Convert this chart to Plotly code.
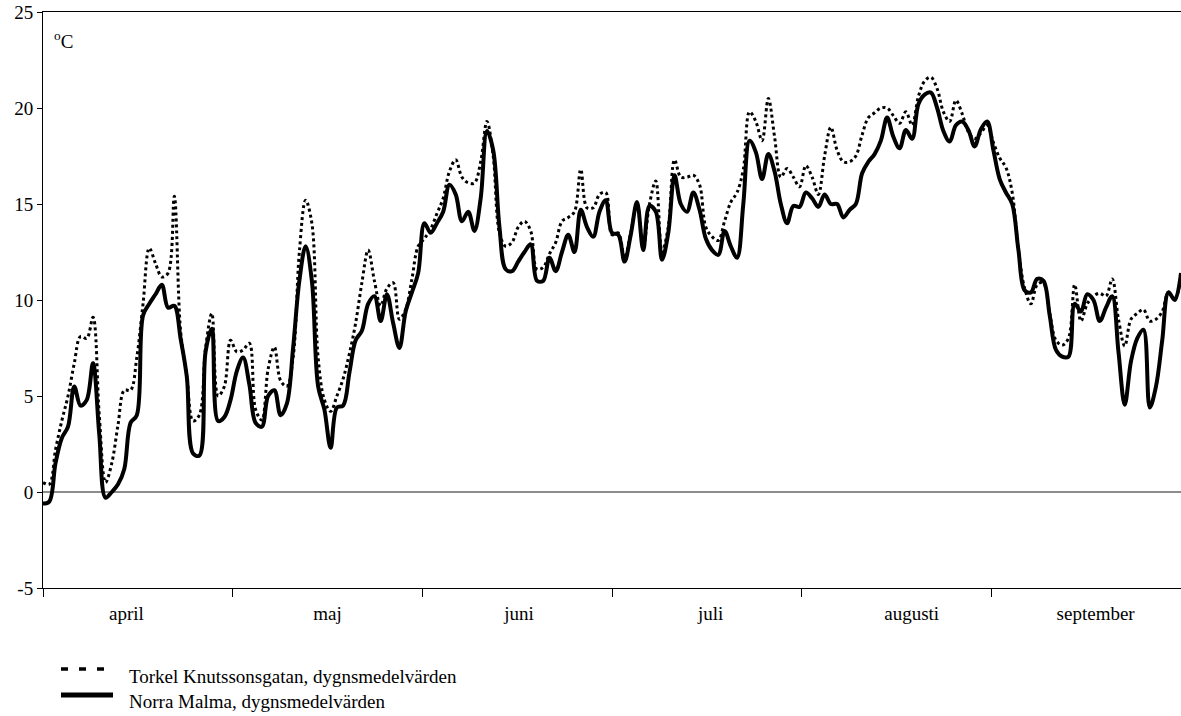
import plotly.graph_objects as go

# Daily mean temperatures, 1 April - 30 September (day index 0..182)
days = list(range(183))

torkel = [
    0.5, 0.4, 2.2, 3.7, 5.0, 6.7, 8.1, 8.0, 9.1, 4.0,
    0.5, 1.5, 3.5, 5.3, 5.3, 7.0, 9.8, 12.7, 11.9, 11.2,
    11.4, 15.4, 8.4, 6.0, 3.7, 4.0, 7.5, 9.3, 5.0, 5.5,
    7.9, 7.3, 7.4, 7.75, 4.3, 3.75, 6.4, 7.55, 5.8, 5.5,
    7.0, 12.5, 15.2, 14.0, 7.0, 4.8, 4.2, 5.0, 5.9, 7.2,
    8.8, 10.9, 12.6, 11.0, 9.7, 10.6, 10.9, 9.0, 9.5, 11.1,
    12.8, 13.2, 13.7, 14.5, 15.3, 16.7, 17.3, 16.4, 16.1, 16.1,
    17.2, 19.3, 17.5, 13.5, 12.8, 13.0, 13.8, 14.1, 13.6, 11.6,
    11.7, 12.4, 13.0, 14.1, 14.3, 14.6, 16.8, 14.8, 14.8, 15.5,
    15.6, 13.4, 13.5, 12.2, 13.5, 15.0, 12.8, 15.0, 16.2, 12.5,
    13.8, 17.3, 16.4, 16.4, 16.5, 16.0, 13.8, 13.3, 13.1, 14.1,
    15.1, 15.6, 16.8, 19.8, 19.3, 18.3, 20.5, 18.5, 16.4, 16.85,
    16.4, 15.9, 17.0, 16.4, 15.5, 17.5, 19.0, 17.8, 17.2, 17.2,
    17.5, 18.6, 19.5, 19.75, 20.0, 20.0, 19.6, 19.2, 19.8, 19.1,
    20.6, 21.4, 21.6, 21.0, 19.8, 19.3, 20.4, 19.7, 18.75, 18.4,
    18.7, 19.1, 18.2, 17.4, 16.9, 15.6, 12.6, 10.6, 9.8, 10.8,
    10.9, 9.3, 7.9, 7.65, 8.0, 10.8, 8.9, 9.8, 10.2, 10.35,
    10.2, 11.1, 9.0, 7.6, 9.0, 9.3, 9.5, 8.9, 9.0, 9.4,
    10.4, 10.0, 11.4,
]

norra_malma = [
    -0.6, -0.5, 1.5, 2.8, 3.4, 5.5, 4.5, 4.8, 6.7, 3.0,
    -0.3, 0.0, 0.4, 1.2, 3.6, 4.0, 9.2, 9.8, 10.3, 10.8,
    9.6, 9.7, 8.0, 6.0, 2.0, 1.9, 7.3, 8.5, 3.7, 3.9,
    4.8, 6.3, 7.0, 5.6, 3.6, 3.4, 5.0, 5.3, 4.0, 4.6,
    7.5, 11.0, 12.8, 11.0, 5.5, 4.3, 2.3, 4.4, 4.5, 6.2,
    7.9, 8.4, 9.8, 10.2, 8.9, 10.3, 8.8, 7.5, 9.4, 10.4,
    11.4, 14.0, 13.5, 14.0, 14.6, 16.0, 15.5, 14.1, 14.6, 13.6,
    15.3, 18.8, 17.8, 13.8, 11.6, 11.5, 12.0, 12.5, 12.9, 11.0,
    11.0, 12.2, 11.5, 12.5, 13.4, 12.5, 14.7, 13.8, 13.3, 14.6,
    15.2, 13.5, 13.4, 12.0, 13.4, 15.1, 12.6, 14.9, 14.6, 12.1,
    13.5, 16.5, 15.0, 14.6, 15.6, 14.7, 13.2, 12.6, 12.35, 13.6,
    12.8, 12.2, 15.0, 18.3, 17.7, 16.3, 17.6, 16.7, 15.0, 14.0,
    14.9, 14.85, 15.6, 15.3, 14.85, 15.5, 15.0, 15.0, 14.3, 14.7,
    15.0, 16.6, 17.2, 17.6, 18.3, 19.5, 18.5, 17.9, 18.85, 18.4,
    20.2, 20.7, 20.8, 20.0, 18.8, 18.25, 19.1, 19.3, 18.85, 18.0,
    18.9, 19.3, 17.8, 16.3, 15.6, 15.0, 12.6, 10.5, 10.4, 11.1,
    11.0, 9.2, 7.4, 7.05, 7.05, 9.8, 9.4, 10.3, 10.0, 8.9,
    9.6, 10.2, 7.3, 4.55, 6.8, 8.0, 8.45, 4.4, 5.5, 7.9,
    10.4, 10.0, 11.4,
]

months = ["april", "maj", "juni", "juli", "augusti", "september"]
y_ticks = [-5, 0, 5, 10, 15, 20, 25]
y_ticktext = ["-5", "0", "5", "10", "15", "20", "25"]

series_names = [
    "Torkel Knutssonsgatan, dygnsmedelvärden",
    "Norra Malma, dygnsmedelvärden",
]

FONT = "Liberation Serif, Times New Roman, serif"

W, H = 1181, 716
ML, MR, MT, MB = 43, 0, 12, 128
plot_w = W - ML - MR
plot_h = H - MT - MB

span = days[-1]
n_months = len(months)
# tick marks split the axis into six equal month sections
boundaries = [span * i / n_months for i in range(n_months + 1)]
# month names sit a little off-centre within each section
label_offsets = [0.44, 0.50, 0.51, 0.52, 0.58, 0.55]
label_pos = [span * (i + f) / n_months for i, f in enumerate(label_offsets)]

DOT = "3px,3px"

fig = go.Figure()

fig.add_trace(go.Scatter(
    x=days, y=torkel, name=series_names[0], mode="lines",
    line=dict(color="black", width=3, dash=DOT, shape="spline", smoothing=1),
))
fig.add_trace(go.Scatter(
    x=days, y=norra_malma, name=series_names[1], mode="lines",
    line=dict(color="black", width=4, shape="spline", smoothing=1),
))


def px_x(px):
    return (px - ML) / plot_w


def px_y(py):
    return (MT + plot_h - py) / plot_h


# legend drawn below the plot: line sample + label per series
legend_rows = [
    dict(y_line=669, y_text=676, x0=61, x1=106, width=3.5, dash="7px,11px"),
    dict(y_line=695, y_text=701, x0=61, x1=113, width=5, dash="solid"),
]
shapes = []
annotations = []
for name, row in zip(series_names, legend_rows):
    shapes.append(dict(
        type="line", xref="paper", yref="paper",
        x0=px_x(row["x0"]), x1=px_x(row["x1"]),
        y0=px_y(row["y_line"]), y1=px_y(row["y_line"]),
        line=dict(color="black", width=row["width"], dash=row["dash"]),
    ))
    annotations.append(dict(
        x=px_x(127), y=px_y(row["y_text"]), xref="paper", yref="paper",
        xanchor="left", yanchor="middle", text=name, showarrow=False,
        font=dict(family=FONT, size=19, color="black"),
    ))

annotations.append(dict(
    x=px_x(52), y=px_y(26), xref="paper", yref="paper", xanchor="left", yanchor="top",
    text="<sup>o</sup>C", showarrow=False, font=dict(family=FONT, size=19),
))

fig.update_layout(
    width=W, height=H,
    margin=dict(l=ML, r=MR, t=MT, b=MB),
    paper_bgcolor="white", plot_bgcolor="white",
    font=dict(family=FONT, size=19, color="black"),
    showlegend=False,
    xaxis=dict(
        range=[0, span], tickmode="array", tickvals=label_pos, ticktext=months,
        ticks="", ticklen=0, showgrid=False, zeroline=False,
        showline=True, linecolor="black", linewidth=1, mirror=True,
        ticklabelstandoff=8,
        minor=dict(tickmode="array", tickvals=boundaries, ticks="outside",
                   ticklen=8, tickcolor="black", tickwidth=1, showgrid=False),
    ),
    yaxis=dict(
        range=[-5, 25], tickmode="array", tickvals=y_ticks, ticktext=y_ticktext,
        ticks="outside", ticklen=5, tickcolor="black",
        showgrid=False, showline=True, linecolor="black", linewidth=1,
        zeroline=True, zerolinecolor="#8c8c8c", zerolinewidth=2,
    ),
    shapes=shapes,
    annotations=annotations,
)

fig.write_html("out.html")
